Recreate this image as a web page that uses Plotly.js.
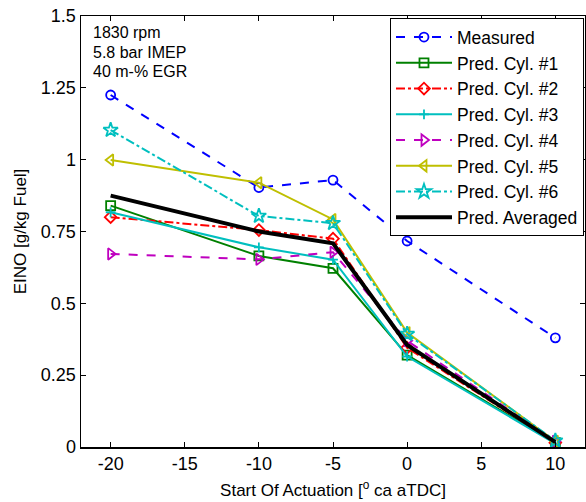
<!DOCTYPE html>
<html>
<head>
<meta charset="utf-8">
<script src="https://cdn.plot.ly/plotly-3.0.1.min.js"></script>
<style>html,body{margin:0;padding:0;background:#fff;}#chart{width:586px;height:502px;}</style>
</head>
<body>
<div id="chart"></div>
<script>
// Data
const soa = [-20, -10, -5, 0, 10];
const measured = [1.225, 0.903, 0.929, 0.717, 0.38];
const cyl1 = [0.84, 0.665, 0.622, 0.32, 0.015];
const cyl2 = [0.80, 0.755, 0.725, 0.345, 0.015];
const cyl3 = [0.817, 0.695, 0.652, 0.315, 0.012];
const cyl4 = [0.672, 0.653, 0.678, 0.37, 0.02];
const cyl5 = [0.999, 0.92, 0.792, 0.398, 0.02];
const cyl6 = [1.103, 0.804, 0.779, 0.393, 0.022];
const averaged = [0.875, 0.75, 0.709, 0.355, 0.017];
const seriesNames = ['Measured','Pred. Cyl. #1','Pred. Cyl. #2','Pred. Cyl. #3','Pred. Cyl. #4','Pred. Cyl. #5','Pred. Cyl. #6','Pred. Averaged'];
const yTickVals = [0, 0.25, 0.5, 0.75, 1, 1.25, 1.5];
const yTickText = ['0', '0.25', '0.5', '0.75', '1', '1.25', '1.5'];
const xTickVals = [-20, -15, -10, -5, 0, 5, 10];
const notes = ['1830 rpm', '5.8 bar IMEP', '40 m-% EGR'];

const FONT = 'Liberation Sans, Arial, Helvetica, sans-serif';

function tr(y, name, color, dash, symbol, msize, lw) {
  const t = {
    x: soa, y: y, name: name, type: 'scatter',
    mode: symbol ? 'lines+markers' : 'lines',
    line: {color: color, dash: dash, width: lw || 2}
  };
  if (symbol) t.marker = {symbol: symbol, size: msize, color: color, line: {color: color, width: 1.8}};
  return t;
}

const data = [
  tr(measured, seriesNames[0], '#0000FF', 'dash', 'circle-open', 9),
  tr(cyl1, seriesNames[1], '#008000', 'solid', 'square-open', 9),
  tr(cyl2, seriesNames[2], '#FF0000', 'dashdot', 'diamond-open', 9),
  tr(cyl3, seriesNames[3], '#00BFBF', 'solid', 'cross-thin-open', 7),
  tr(cyl4, seriesNames[4], '#BF00BF', 'dash', 'triangle-right-open', 10),
  tr(cyl5, seriesNames[5], '#BFBF00', 'solid', 'triangle-left-open', 10),
  tr(cyl6, seriesNames[6], '#00BFBF', 'dashdot', 'star-open', 11),
  tr(averaged, seriesNames[7], '#000000', 'solid', null, 0, 4)
];

const layout = {
  width: 586, height: 502,
  margin: {l: 81, r: 1, t: 16, b: 55},
  paper_bgcolor: '#fff', plot_bgcolor: '#fff',
  font: {family: FONT, size: 18, color: '#000'},
  showlegend: true,
  legend: {
    x: 0.998, xanchor: 'right', y: 0.995, yanchor: 'top',
    bgcolor: '#fff', bordercolor: '#000', borderwidth: 1,
    font: {family: FONT, size: 17.5, color: '#000'},
    itemwidth: 56, tracegroupgap: 0
  },
  xaxis: {
    range: [-22, 12], tickvals: xTickVals, ticktext: xTickVals.map(String),
    ticks: 'inside', ticklen: 5, tickcolor: '#000', tickwidth: 1,
    showline: true, linecolor: '#000', linewidth: 1.5, mirror: 'ticks',
    showgrid: false, zeroline: false,
    tickfont: {family: FONT, size: 18},
    title: {text: 'Start Of Actuation [<sup>o</sup> ca aTDC]', font: {family: FONT, size: 17}, standoff: 11}
  },
  yaxis: {
    range: [0, 1.5], tickvals: yTickVals, ticktext: yTickText,
    ticks: 'inside', ticklen: 5, tickcolor: '#000', tickwidth: 1,
    showline: true, linecolor: '#000', linewidth: 1.5, mirror: 'ticks',
    showgrid: false, zeroline: false,
    tickfont: {family: FONT, size: 18},
    title: {text: 'EINO [g/kg Fuel]', font: {family: FONT, size: 17}, standoff: 10}
  },
  annotations: notes.map((t, i) => ({
    text: t, xref: 'paper', yref: 'paper',
    x: 0.02, xanchor: 'left', y: 1 - (17 + 19 * i) / 431, yanchor: 'middle',
    showarrow: false, font: {family: FONT, size: 16, color: '#000'}
  }))
};

Plotly.newPlot('chart', data, layout, {displayModeBar: false, staticPlot: true});
</script>
</body>
</html>
